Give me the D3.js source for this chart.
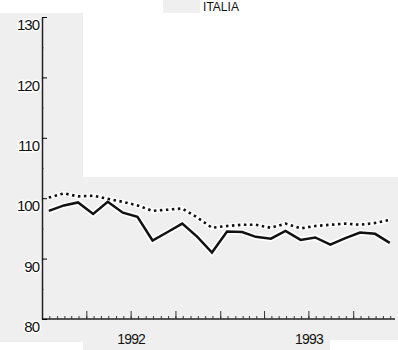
<!DOCTYPE html>
<html>
<head>
<meta charset="utf-8">
<script src="https://cdn.jsdelivr.net/npm/d3@7"></script>
<style>
  body { margin: 0; background: #fff; }
  text { font-family: "Liberation Sans", Arial, sans-serif; }
</style>
</head>
<body>
<div class="chart"></div>
<script>
// monthly data, jan 1992 - dec 1993
var months = ["1992-01","1992-02","1992-03","1992-04","1992-05","1992-06",
              "1992-07","1992-08","1992-09","1992-10","1992-11","1992-12",
              "1993-01","1993-02","1993-03","1993-04","1993-05","1993-06",
              "1993-07","1993-08","1993-09","1993-10","1993-11","1993-12"];
var solidValues = [97.9, 98.8, 99.3, 97.4, 99.4, 97.6, 96.9, 93.0, 94.4, 95.8, 93.6, 91.0,
                   94.5, 94.4, 93.6, 93.3, 94.6, 93.1, 93.5, 92.3, 93.4, 94.3, 94.1, 92.6];
var dottedValues = [100.1, 100.8, 100.3, 100.4, 99.9, 99.4, 98.8, 97.9, 98.1, 98.3, 96.8, 95.1,
                    95.4, 95.6, 95.6, 95.1, 95.8, 95.0, 95.4, 95.6, 95.8, 95.6, 95.9, 96.4];
var yTicks = [80, 90, 100, 110, 120, 130];
var yMinorTicks = [85, 95, 105, 115, 125];
var yearLabels = ["1992", "1993"];
var title = "ITALIA";

var Width = 398, Height = 350;

var svg = d3.select(".chart").append("svg")
    .attr("width", Width)
    .attr("height", Height);

// scanned-page grey patches
var grey = "#efefef";
svg.append("rect").attr("x", 0).attr("y", 13).attr("width", 83).attr("height", 329).attr("fill", grey);
svg.append("rect").attr("x", 83).attr("y", 177).attr("width", 315).attr("height", 173).attr("fill", grey);
svg.append("rect").attr("x", 330).attr("y", 340).attr("width", 68).attr("height", 10).attr("fill", "#fff");
svg.append("rect").attr("x", 163).attr("y", 0).attr("width", 37).attr("height", 13).attr("fill", grey);

var parse = d3.timeParse("%Y-%m");
var data = months.map(function(m, i) {
  var d = parse(m);
  return { date: d3.timeDay.offset(d, 14), solid: solidValues[i], dotted: dottedValues[i] };
});

var x = d3.scaleTime()
    .domain([new Date(1992, 0, 1), new Date(1994, 0, 1)])
    .range([42, 398]);
var y = d3.scaleLinear()
    .domain([80, 130])
    .range([319, 17]);

// x axis: half-month minor ticks, quarterly major ticks
var halfMonths = [];
d3.timeMonth.range(new Date(1992, 0, 1), new Date(1993, 11, 31)).forEach(function(m) {
  halfMonths.push(m);
  halfMonths.push(d3.timeDay.offset(m, 15));
});
var quarters = d3.timeMonth.every(3).range(new Date(1992, 0, 1), new Date(1993, 11, 31));

var xMinor = svg.append("g")
    .attr("transform", "translate(0," + y(80) + ")")
    .call(d3.axisBottom(x).tickValues(halfMonths).tickSize(-3).tickSizeOuter(0).tickFormat(""));
var xMajor = svg.append("g")
    .attr("transform", "translate(0," + y(80) + ")")
    .call(d3.axisBottom(x).tickValues(quarters).tickSize(-8).tickSizeOuter(0).tickFormat(""));
xMajor.select(".domain").remove();
xMinor.select(".domain").attr("d", "M42,0H395").attr("stroke", "#222").attr("stroke-width", 1.5);
svg.selectAll(".tick line").attr("stroke", "#333");

// year labels centred in each year
var xLabels = svg.append("g")
    .attr("transform", "translate(0," + y(80) + ")")
    .call(d3.axisBottom(x)
      .tickValues(yearLabels.map(function(s) { return new Date(+s, 6, 1); }))
      .tickSize(0).tickPadding(15)
      .tickFormat(d3.timeFormat("%Y")));
xLabels.select(".domain").remove();
xLabels.selectAll("text")
    .attr("font-size", 14)
    .attr("letter-spacing", -0.8)
    .attr("fill", "#111")
    .attr("font-family", "\"Liberation Sans\", Arial, sans-serif");

// y axis
var yMinorAxis = svg.append("g")
    .attr("transform", "translate(42,0)")
    .call(d3.axisLeft(y).tickValues(yMinorTicks).tickSize(-2).tickFormat(""));
yMinorAxis.select(".domain").remove();
yMinorAxis.selectAll("line").attr("stroke", "#999");

var yAxis = svg.append("g")
    .attr("transform", "translate(42,0)")
    .call(d3.axisLeft(y).tickValues(yTicks).tickSize(-5).tickSizeOuter(0).tickPadding(3));
yAxis.select(".domain").attr("stroke", "#222").attr("stroke-width", 1.5);
yAxis.selectAll("text")
    .attr("font-size", 15)
    .attr("letter-spacing", -1)
    .attr("dy", "0.85em")
    .attr("fill", "#111")
    .attr("stroke", "#fff")
    .attr("stroke-width", 3)
    .attr("paint-order", "stroke")
    .attr("font-family", "\"Liberation Sans\", Arial, sans-serif");

// lines
var solidLine = d3.line()
    .x(function(d) { return x(d.date); })
    .y(function(d) { return y(d.solid); });
var dottedLine = d3.line()
    .x(function(d) { return x(d.date); })
    .y(function(d) { return y(d.dotted); });

// white halo under the lines, like the scan
svg.append("path").datum(data).attr("d", dottedLine)
    .attr("fill", "none").attr("stroke", "#fff").attr("stroke-width", 5);
svg.append("path").datum(data).attr("d", solidLine)
    .attr("fill", "none").attr("stroke", "#fff").attr("stroke-width", 6);

svg.append("path").datum(data).attr("d", dottedLine)
    .attr("fill", "none").attr("stroke", "#111")
    .attr("stroke-width", 2.6)
    .attr("stroke-dasharray", "2.5,3.5");
svg.append("path").datum(data).attr("d", solidLine)
    .attr("fill", "none").attr("stroke", "#111")
    .attr("stroke-width", 2.5)
    .attr("stroke-linejoin", "miter");

// title at the top of the page
svg.append("text")
    .attr("x", 221)
    .attr("y", 11)
    .attr("text-anchor", "middle")
    .attr("font-size", 12)
    .attr("fill", "#111")
    .text(title);
</script>
</body>
</html>
